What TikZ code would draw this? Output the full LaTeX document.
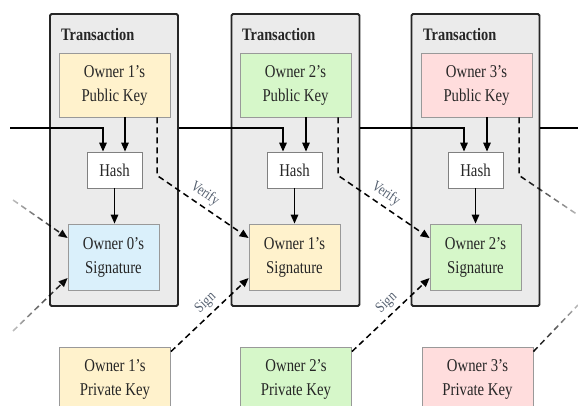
\documentclass[tikz,border=0pt]{standalone}
\usepackage{fontspec}
\setmainfont[FakeStretch=0.82]{Liberation Serif}
\usetikzlibrary{arrows.meta,fadings}
\definecolor{ylw}{HTML}{FFF2CC}
\definecolor{grn}{HTML}{D6F7C9}
\definecolor{pnk}{HTML}{FFDDDD}
\definecolor{blu}{HTML}{DAF0FB}
\definecolor{txbg}{HTML}{EBEBEB}
\definecolor{lbl}{HTML}{556070}
\tikzfading[name=fadeinL, left color=transparent!75, right color=transparent!0]
\tikzfading[name=fadeoutR, left color=transparent!0, right color=transparent!75]
\begin{document}
\begin{tikzpicture}[x=1pt,y=-1pt,
  txbox/.style={draw=black!85, line width=1.8pt, fill=txbg, rounded corners=1.5pt, minimum width=128pt, minimum height=292pt, inner sep=0pt},
  keybox/.style={draw=black!40, line width=0.8pt, minimum width=111pt, minimum height=64pt, align=center, text=black!85, font=\fontsize{18}{24}\selectfont, inner sep=0pt},
  sigbox/.style={keybox, minimum width=91pt, minimum height=66pt},
  hashbox/.style={draw=black!50, fill=white, line width=0.8pt, minimum width=55pt, minimum height=36pt, inner sep=0pt, text=black!85, font=\fontsize{18}{22}\selectfont},
  ttl/.style={font=\bfseries\fontsize{17.5}{20}\selectfont, text=black!85, anchor=base west, inner sep=0pt},
  arr/.style={line width=1.4pt, -{Triangle[length=9pt,width=7.5pt]}},
  chain/.style={arr, line width=1.6pt},
  dsh/.style={line width=1.5pt, dash pattern=on 6pt off 4pt, -{Triangle[length=9pt,width=7.5pt]}},
  dshn/.style={line width=1.5pt, dash pattern=on 6pt off 4pt},
  lab/.style={font=\fontsize{15}{16}\selectfont, text=lbl, sloped, above=2pt, inner sep=2pt}
]
\fill[white] (0,0) rectangle (578,406);
\useasboundingbox (0,0) rectangle (578,406);
\clip (0,0) rectangle (578,406);

% column 1
\node[txbox] (tx1) at (114,160) {};
\node[ttl] (t1) at (61,41) {Transaction};
\node[keybox, fill=ylw] (pk1) at (114.5,85) {Owner 1's\\Public Key};
\node[hashbox] (h1) at (114.5,170) {Hash};
\node[sigbox, fill=blu] (s1) at (113.5,257) {Owner 0's\\Signature};
\node[keybox, fill=ylw] (pv1) at (115,379) {Owner 1's\\Private Key};

% column 2
\node[txbox] (tx2) at (295.5,160) {};
\node[ttl] (t2) at (242,41) {Transaction};
\node[keybox, fill=grn] (pk2) at (295.5,85) {Owner 2's\\Public Key};
\node[hashbox] (h2) at (294.5,170) {Hash};
\node[sigbox, fill=ylw] (s2) at (294.5,257) {Owner 1's\\Signature};
\node[keybox, fill=grn] (pv2) at (296,379) {Owner 2's\\Private Key};

% column 3
\node[txbox] (tx3) at (475.5,160) {};
\node[ttl] (t3) at (423,41) {Transaction};
\node[keybox, fill=pnk] (pk3) at (476.5,85) {Owner 3's\\Public Key};
\node[hashbox] (h3) at (475.5,170) {Hash};
\node[sigbox, fill=grn] (s3) at (475.5,257) {Owner 2's\\Signature};
\node[keybox, fill=pnk] (pv3) at (477.5,379) {Owner 3's\\Private Key};

% chain
\coordinate (L0) at (10,128);
\coordinate (R0) at (578,128);
\draw[chain] (L0) -| ([xshift=-11.5pt]h1.north);
\draw[chain] (tx1.east |- L0) -| ([xshift=-11.5pt]h2.north);
\draw[chain] (tx2.east |- L0) -| ([xshift=-11.5pt]h3.north);
\draw[line width=1.6pt] (tx3.east |- L0) -- (R0);

% public key -> hash, hash -> signature
\foreach \i in {1,2,3}{
  \draw[arr] ([xshift=10.5pt]pk\i.south) -- ([xshift=10.5pt]pk\i.south |- h\i.north);
  \draw[arr] (h\i.south) -- (h\i.south |- s\i.north);
}

% verify and sign
\draw[dsh] ([xshift=42.5pt]pk1.south) -- ++(0,58) -- node[lab, pos=0.45]{Verify} ([yshift=19pt]s2.west);
\draw[dsh] ([xshift=42.5pt]pk2.south) -- ++(0,58) -- node[lab, pos=0.45]{Verify} ([yshift=19pt]s3.west);
\draw[dsh] ([yshift=-5pt]pv1.north east) -- node[lab, pos=0.55]{Sign} ([yshift=-21pt]s2.west);
\draw[dsh] ([yshift=-5pt]pv2.north east) -- node[lab, pos=0.55]{Sign} ([yshift=-21pt]s3.west);

% incoming and outgoing faded lines
\coordinate (V0) at (13,200);
\coordinate (S0) at (13,331);
\coordinate (V4) at (578,215);
\coordinate (S4) at (578,305);
\draw[dsh, path fading=fadeinL] (V0) -- ([yshift=19pt]s1.west);
\draw[dsh, path fading=fadeinL] (S0) -- ([yshift=-21pt]s1.west);
\draw[dshn, path fading=fadeoutR] ([xshift=42.5pt]pk3.south) -- ++(0,58) -- (V4);
\draw[dshn, path fading=fadeoutR] ([yshift=-5pt]pv3.north east) -- (S4);
\end{tikzpicture}
\end{document}
